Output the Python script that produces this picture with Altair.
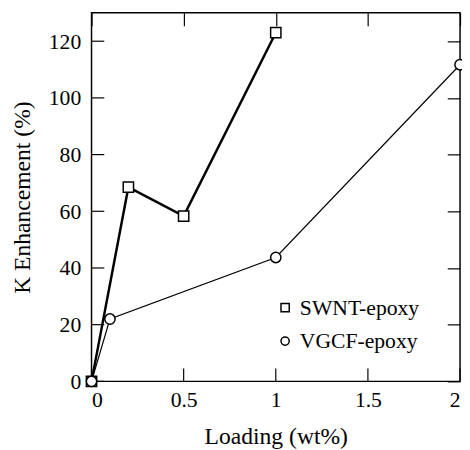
import altair as alt
import pandas as pd

series_names = ["SWNT-epoxy", "VGCF-epoxy"]
swnt_x = [0, 0.2, 0.5, 1.0]
swnt_y = [0, 68.5, 58.3, 123]
vgcf_x = [0, 0.1, 1.0, 2.0]
vgcf_y = [0, 22, 43.7, 111.7]
x_ticks = [0, 0.5, 1, 1.5, 2]
y_ticks = [0, 20, 40, 60, 80, 100, 120]

rows = []
for i, (xv, yv) in enumerate(zip(swnt_x, swnt_y)):
    rows.append({"kind": "data", "series": series_names[0], "x": xv, "y": yv, "order": i})
for i, (xv, yv) in enumerate(zip(vgcf_x, vgcf_y)):
    rows.append({"kind": "data", "series": series_names[1], "x": xv, "y": yv, "order": i})
for t in x_ticks:
    rows.append({"kind": "xtick", "t": t})
for t in y_ticks:
    rows.append({"kind": "ytick", "t": t})
df = pd.DataFrame(rows)

FONT = "Liberation Serif"
W, H, TICK = 375, 375, 13
X_DOM, Y_DOM = [0, 2], [0, 130]
xscale = alt.Scale(domain=X_DOM, nice=False, zero=False)
yscale = alt.Scale(domain=Y_DOM, nice=False)

x_axis = alt.Axis(orient="bottom", values=x_ticks, labelExpr="datum.value", ticks=False,
                  domain=False, grid=False, labelPadding=9, titlePadding=14,
                  title="Loading (wt%)")
y_axis = alt.Axis(orient="left", values=y_ticks, ticks=False, domain=False,
                  grid=False, labelPadding=11, titlePadding=14, title="K Enhancement (%)")

base = alt.Chart(df)
data_base = base.transform_filter(alt.datum.kind == "data")

line_swnt = base.transform_filter(alt.datum.series == series_names[0]).mark_line(
    color="black", strokeWidth=2.5).encode(
    x=alt.X("x:Q", scale=xscale, axis=x_axis),
    y=alt.Y("y:Q", scale=yscale, axis=y_axis),
    order="order:O",
)
line_vgcf = base.transform_filter(alt.datum.series == series_names[1]).mark_line(
    color="black", strokeWidth=1.2).encode(
    x=alt.X("x:Q", scale=xscale, axis=None),
    y=alt.Y("y:Q", scale=yscale, axis=None),
    order="order:O",
)

leg = alt.Legend(title=None, orient="none", legendX=186, legendY=289,
                 symbolSize=70, symbolStrokeWidth=1.5, labelFontSize=22,
                 labelFont=FONT, labelColor="black", labelOffset=4,
                 rowPadding=12, padding=0)

points = data_base.mark_point(filled=False, fill="white", fillOpacity=1,
                              strokeWidth=1.5, opacity=1, size=110).encode(
    x=alt.X("x:Q", scale=xscale, axis=None),
    y=alt.Y("y:Q", scale=yscale, axis=None),
    shape=alt.Shape("series:N", scale=alt.Scale(domain=series_names, range=["square", "circle"]),
                    legend=leg),
    color=alt.Color("series:N", scale=alt.Scale(domain=series_names, range=["black", "black"]),
                    legend=leg),
)

# inward ticks on the left and bottom edges: tick length of TICK pixels expressed through the scales
x_len = (X_DOM[1] - X_DOM[0]) * TICK / W
y_len = (Y_DOM[1] - Y_DOM[0]) * TICK / H
left_ticks = base.transform_filter(alt.datum.kind == "ytick").transform_calculate(
    a=f"{X_DOM[0]}", b=f"{X_DOM[0] + x_len}").mark_rule(color="black", strokeWidth=1.2).encode(
    y=alt.Y("t:Q", scale=yscale, axis=None),
    x=alt.X("a:Q", scale=xscale, axis=None), x2="b:Q")
bottom_ticks = base.transform_filter(alt.datum.kind == "xtick").transform_calculate(
    c=f"{Y_DOM[0]}", d=f"{Y_DOM[0] + y_len}").mark_rule(color="black", strokeWidth=1.2).encode(
    x=alt.X("t:Q", scale=xscale, axis=None),
    y=alt.Y("c:Q", scale=yscale, axis=None), y2="d:Q")

# inward ticks on the top and right edges
mirror = data_base.mark_point(opacity=0).encode(
    x=alt.X("x:Q", scale=xscale, axis=alt.Axis(orient="top", values=x_ticks, labels=False, offset=-TICK,
                                              tickSize=TICK, domain=False, grid=False, title=None)),
    y=alt.Y("y:Q", scale=yscale, axis=alt.Axis(orient="right", values=y_ticks, labels=False, offset=-TICK,
                                              tickSize=TICK, domain=False, grid=False, title=None)),
)

chart = alt.layer(line_vgcf, line_swnt, left_ticks, bottom_ticks, points, mirror).resolve_axis(
    x="independent", y="independent").properties(
    width=W, height=H,
    background="white",
    autosize=alt.AutoSizeParams(type="none"),
    padding={"left": 85, "top": 1, "right": 2, "bottom": 72},
).configure_view(stroke="black", strokeWidth=1.5).configure_axis(
    labelFont=FONT, labelFontSize=22, labelColor="black", titleFont=FONT, titleFontSize=24,
    titleColor="black", titleFontWeight="normal", tickColor="black", tickWidth=1.2,
)

chart.save("out.html", embed_options={"renderer": "svg", "actions": False})
